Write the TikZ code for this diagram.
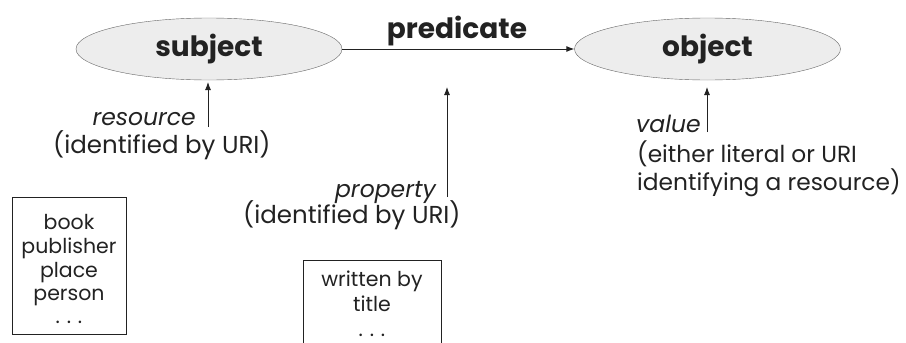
\documentclass[tikz,border=0pt]{standalone}
\usepackage{fontspec}
\setmainfont{Poppins}
\usetikzlibrary{shapes.geometric,arrows.meta}
\definecolor{ellfill}{HTML}{EDEDED}
\definecolor{ink}{HTML}{222222}
\tikzset{
  term/.style={ellipse, draw=gray!80!black, fill=ellfill, minimum width=266pt, minimum height=62pt, inner sep=0pt, font=\fontsize{28}{32}\selectfont\bfseries, text=ink},
  ptr/.style={draw=ink, line width=0.9pt, -{Latex[length=8pt,width=6pt]}},
  lbl/.style={inner sep=0pt, anchor=base, font=\fontsize{24.5}{28}\selectfont, text=ink},
  vlbl/.style={inner sep=0pt, anchor=base west, font=\fontsize{23.3}{28}\selectfont, text=ink},
  ilbl/.style={inner sep=0pt, anchor=base east, font=\fontsize{23.5}{28}\selectfont\itshape, text=ink},
  item/.style={inner sep=0pt, anchor=base, font=\fontsize{20.5}{24}\selectfont, text=ink},
  frame/.style={draw=ink, line width=1pt}
}
\begin{document}
\begin{tikzpicture}[x=1pt,y=-1pt]
\useasboundingbox (0,0) rectangle (906,343);
\clip (0,0) rectangle (906,343);
\node[term] (subj) at (209,49) {\raisebox{-2pt}{subject}};
\node[term] (obj) at (707.5,49) {\raisebox{-2pt}{object}};
\draw[ptr] (subj) -- (obj);
\node[lbl, font=\fontsize{28}{32}\selectfont\bfseries] (pred) at (457,38) {predicate};
% resource
\coordinate (rs) at (208,127);
\coordinate (re) at (208,82);
\draw[ptr] (rs) -- (re);
\node[ilbl] (res) at (196,125) {resource};
\node[lbl, anchor=base west] (resid) at (53,153) {(identified by URI)};
% property
\coordinate (ps) at (447,197);
\coordinate (pe) at (447,87);
\draw[ptr] (ps) -- (pe);
\node[ilbl] (prop) at (436,197) {property};
\node[lbl, anchor=base west] (propid) at (243,223) {(identified by URI)};
% value
\coordinate (vs) at (707,132);
\coordinate (ve) at (707,87);
\draw[ptr] (vs) -- (ve);
\node[ilbl, anchor=base west] (val) at (636,132) {value};
\node[vlbl] (valid1) at (637,162) {(either literal or URI};
\node[vlbl] (valid2) at (637,190) {identifying a resource)};
% boxes
\draw[frame] (12.5,197) rectangle (126,334);
\node[item] (c1) at (69,229) {book};
\node[item] (c2) at (69,253) {publisher};
\node[item] (c3) at (69,277) {place};
\node[item] (c4) at (69,300) {person};
\node[item] (c5) at (69,323) {.\,\,.\,\,.};
\draw[frame] (303,360) -- (303,260) -- (441,260) -- (441,360);
\node[item] (p1) at (372,286) {written by};
\node[item] (p2) at (372,311) {title};
\node[item] (p3) at (372,336) {.\,\,.\,\,.};
\end{tikzpicture}
\end{document}
